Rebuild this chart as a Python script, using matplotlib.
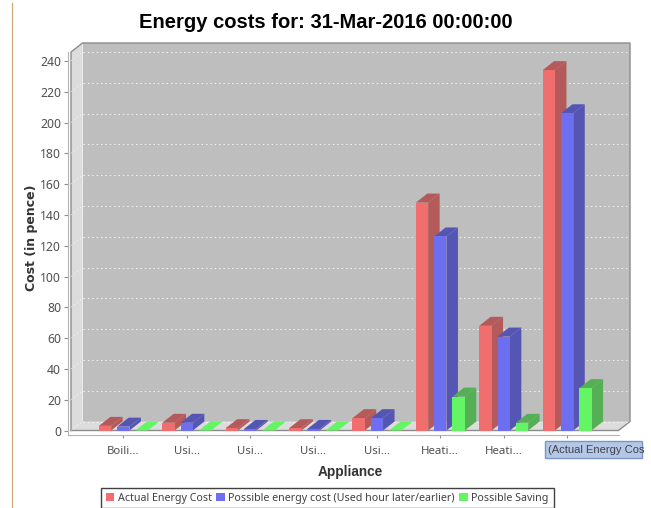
import matplotlib
matplotlib.use('Agg')
import matplotlib.pyplot as plt
from matplotlib.patches import Polygon, Rectangle

appliances = ['Boili...', 'Usi...', 'Usi...', 'Usi...', 'Usi...', 'Heati...', 'Heati...', '']
actual_cost = [3, 5, 1.5, 1.5, 8, 148, 68, 234]
possible_cost = [2.5, 5, 1, 1, 8, 126, 61, 206]
saving = [0, 0, 0, 0, 0, 22, 5, 27.5]
yticks = list(range(0, 241, 20))
series = ['Actual Energy Cost', 'Possible energy cost (Used hour later/earlier)', 'Possible Saving']
front_colors = ['#f06e6e', '#6e6ef0', '#64f564']
side_colors = ['#b45a5a', '#5555b4', '#55af55']

W, H = 651, 508
plt.rcParams['font.family'] = 'Noto Sans'
fig = plt.figure(figsize=(W / 100, H / 100), dpi=100)

# axes box in pixels
left, right, top, bottom = 68, 631, 43, 435
ax = fig.add_axes([left / W, 1 - bottom / H, (right - left) / W, (bottom - top) / H])
px_x = 63.4    # pixels per category
px_y = 1.54    # pixels per pence
x0 = 123.3     # pixel of first category
y0 = 430.5     # pixel of zero
ax.set_xlim((left - x0) / px_x, (right - x0) / px_x)
ax.set_ylim((y0 - bottom) / px_y, (y0 - top) / px_y)
ax.patch.set_visible(False)

# depth of the fake 3d, in data units
dx = 11.5 / px_x
dy = 9 / px_y
wl = (71 - x0) / px_x
wr = (618.5 - x0) / px_x
wt = (y0 - 52) / px_y

# walls and floor
ax.add_patch(Polygon([(wl + dx, dy), (wr + dx, dy), (wr + dx, wt + dy), (wl + dx, wt + dy)],
                     fc='#bebebe', ec='none', zorder=1, clip_on=False))
ax.add_patch(Polygon([(wl, 0), (wl + dx, dy), (wl + dx, wt + dy), (wl, wt)],
                     fc='#dcdcdc', ec='none', zorder=1, clip_on=False))
ax.add_patch(Polygon([(wl, 0), (wr, 0), (wr + dx, dy), (wl + dx, dy)],
                     fc='#dcdcdc', ec='none', zorder=1, clip_on=False))
ax.plot([wl, wl, wl + dx, wr + dx, wr + dx, wr, wl], [0, wt, wt + dy, wt + dy, dy, 0, 0],
        color='#8c8c8c', lw=1, zorder=2, clip_on=False)

# gridlines on the back wall and the left wall
for t in yticks:
    ax.plot([wl + dx, wr + dx], [t + dy, t + dy], color='white', lw=0.7, ls=(0, (1.5, 3)), alpha=0.8, zorder=2)
    ax.plot([wl, wl + dx], [t, t + dy], color='white', lw=0.6, ls=(0, (1.5, 3)), alpha=0.7, zorder=2)

# bars
width = 12.3 / px_x
step = 18.3 / px_x
values = [actual_cost, possible_cost, saving]
z = 3
for cat in range(len(appliances)):
    for s in range(3):
        v = values[s][cat]
        xl = cat + (s - 1) * step - width / 2
        xr = xl + width
        ax.add_patch(Polygon([(xr, 0), (xr + dx, dy), (xr + dx, v + dy), (xr, v)],
                             fc=side_colors[s], ec='none', zorder=z))
        top_color = front_colors[s] if v == 0 else side_colors[s]
        ax.add_patch(Polygon([(xl, v), (xr, v), (xr + dx, v + dy), (xl + dx, v + dy)],
                             fc=top_color, ec='none', zorder=z))
        ax.bar(xl, v, width, align='edge', color=front_colors[s], zorder=z + 1,
               label=series[s] if cat == 0 else None)
        z += 2

# axes
for sp in ['top', 'right']:
    ax.spines[sp].set_visible(False)
ax.spines['left'].set_color('#b4b4b4')
ax.spines['bottom'].set_color('#b4b4b4')
ax.spines['left'].set_bounds((y0 - bottom) / px_y, wt)
ax.spines['bottom'].set_bounds((left - x0) / px_x, wr)
ax.set_yticks(yticks)
ax.set_xticks(range(len(appliances)))
ax.set_xticklabels(appliances)
ax.tick_params(axis='y', length=3, width=0.8, color='#909090', labelcolor='#505050', labelsize=8.8, pad=2)
ax.tick_params(axis='x', length=2, width=0.8, color='#909090', labelcolor='#505050', labelsize=8.2, pad=6)

fig.text(326 / W, 1 - 22 / H, 'Energy costs for: 31-Mar-2016 00:00:00', fontsize=14.5, fontweight='bold',
         family='Liberation Sans', ha='center', va='center', color='black')
fig.text(31 / W, 1 - 238 / H, 'Cost (in pence)', fontsize=9, fontweight='bold', rotation=90,
         family='DejaVu Sans', ha='center', va='center', color='#333333')
fig.text(350 / W, 1 - 472 / H, 'Appliance', fontsize=9.8, fontweight='bold',
         family='Liberation Sans', ha='center', va='center', color='#333333')

# selected category label, cut off on the right in the reference
fig.add_artist(Rectangle((544.5 / W, 1 - 458 / H), 97 / W, 17 / H, transform=fig.transFigure,
                         fc='#b4c8e6', ec='#7896c8', lw=1, clip_on=False))
fig.text(548 / W, 1 - 450 / H, '(Actual Energy Cos', fontsize=8, family='Liberation Sans',
         ha='left', va='center', color='#404050')

# page edge
fig.add_artist(plt.Line2D([11.5 / W, 11.5 / W], [0, 1 - 3 / H], transform=fig.transFigure, color='#d2aa78', lw=0.9))

leg = ax.legend(loc='upper left', bbox_to_anchor=(100.7 / W, 1 - 487.7 / H), bbox_transform=fig.transFigure,
                fontsize=7.7, ncol=3, frameon=True, fancybox=False, edgecolor='#404040', framealpha=1,
                handlelength=0.8, handleheight=0.8, handletextpad=0.35, columnspacing=0.4,
                borderpad=0.45, borderaxespad=0)
leg.get_frame().set_linewidth(1)
for t in leg.get_texts():
    t.set_color('#404040')
leg.set_zorder(1000)

fig.savefig('out.png', dpi=100)
plt.close()
